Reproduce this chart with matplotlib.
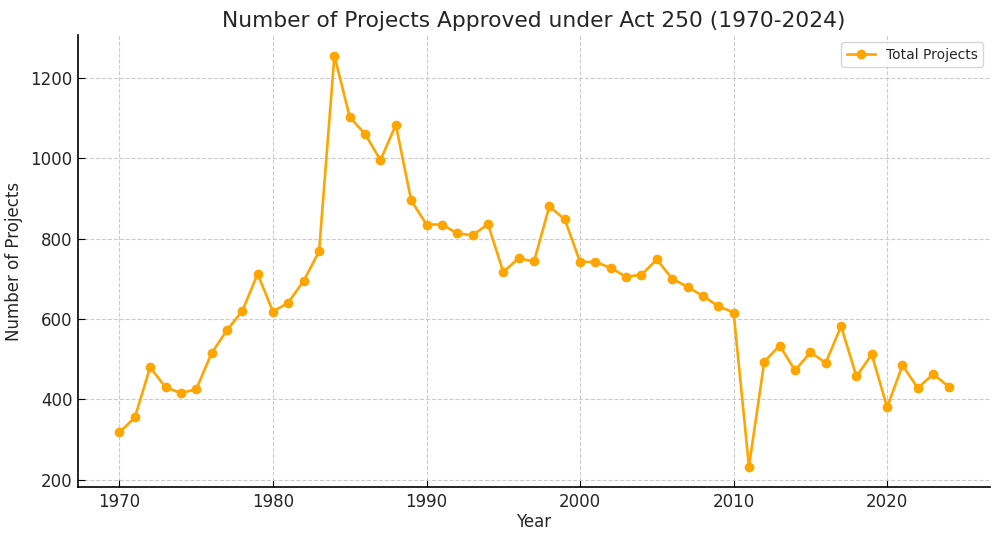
import matplotlib
matplotlib.use("Agg")
import matplotlib.pyplot as plt

years = list(range(1970, 2025))
total_projects = [
    318, 355, 480, 430, 416, 425, 515, 572, 620, 712,
    618, 641, 695, 768, 1255, 1102, 1060, 995, 1083, 895,
    835, 835, 813, 808, 836, 717, 751, 743, 880, 848,
    742, 742, 727, 705, 710, 748, 700, 680, 657, 632,
    616, 233, 494, 534, 472, 517, 491, 582, 457, 512,
    380, 485, 428, 463, 432,
]

text_color = "#262626"
plt.rcParams["font.family"] = ["DejaVu Sans"]

fig, ax = plt.subplots(figsize=(10, 5.4), dpi=100)
ax.plot(years, total_projects, color="orange", marker="o", markersize=6,
        linewidth=1.9, label="Total Projects")

ax.set_title("Number of Projects Approved under Act 250 (1970-2024)",
             fontsize=15.7, color=text_color)
ax.set_xlabel("Year", fontsize=12, color=text_color, labelpad=2)
ax.set_ylabel("Number of Projects", fontsize=12, color=text_color, labelpad=5)
ax.tick_params(axis="both", labelsize=12, labelcolor=text_color,
               direction="in", length=5, pad=4)

for side in ("top", "right"):
    ax.spines[side].set_visible(False)
for side in ("left", "bottom"):
    ax.spines[side].set_color("black")
    ax.spines[side].set_linewidth(1.2)

ax.grid(True, linestyle="--", color="#cccccc", linewidth=0.8)
leg = ax.legend(fontsize=10, loc="upper right", frameon=True)
for t in leg.get_texts():
    t.set_color(text_color)

fig.subplots_adjust(left=0.078, right=0.99, top=0.935, bottom=0.098)
fig.savefig("out.png", dpi=100)
